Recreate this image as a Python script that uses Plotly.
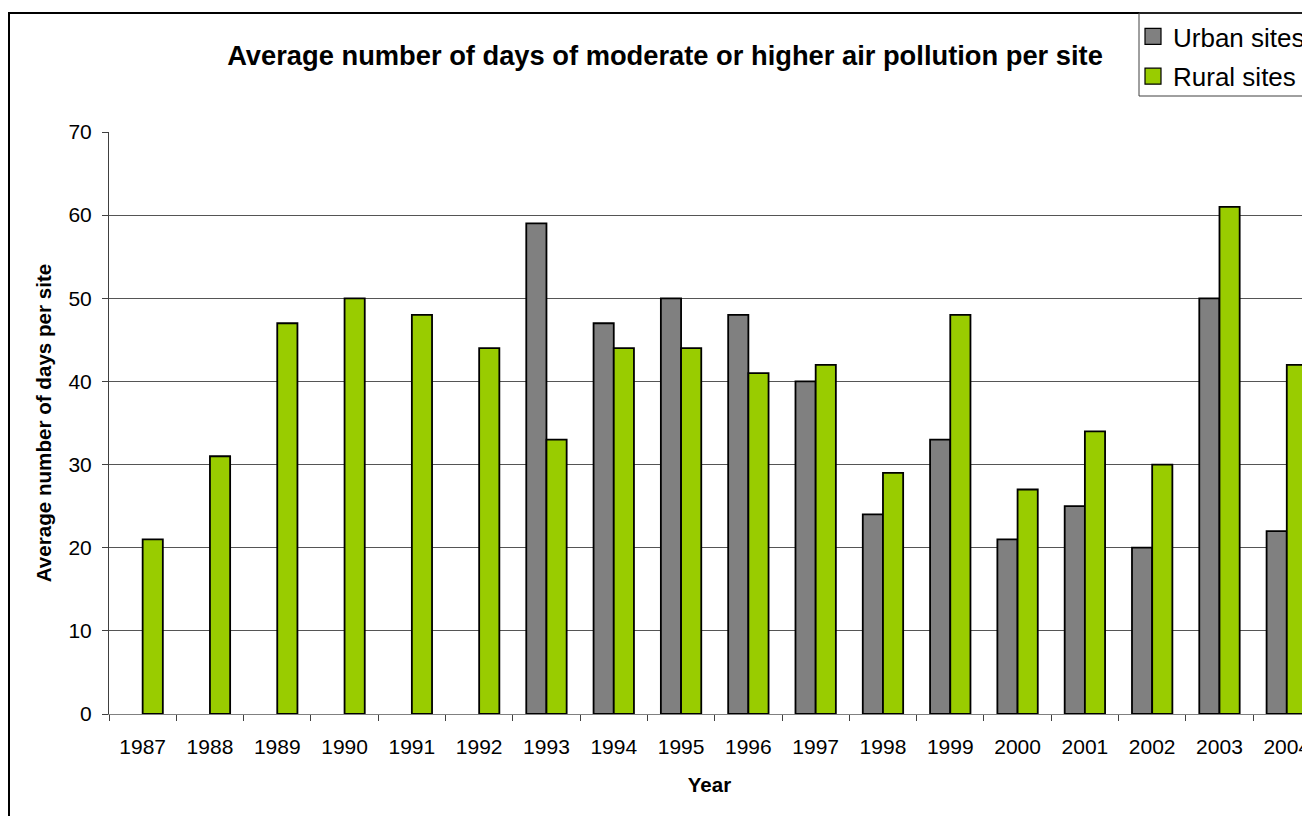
from plotly import graph_objects as go

years = ["1987", "1988", "1989", "1990", "1991", "1992", "1993", "1994", "1995",
         "1996", "1997", "1998", "1999", "2000", "2001", "2002", "2003", "2004"]
urban = [None, None, None, None, None, None, 59, 47, 50, 48, 40, 24, 33, 21, 25, 20, 50, 22]
rural = [21, 31, 47, 50, 48, 44, 33, 44, 44, 41, 42, 29, 48, 27, 34, 30, 61, 42]

font = "Liberation Sans, Arial, sans-serif"
grey = "#808080"
green = "#99CC00"

# page body has an 8px margin, so the figure is a bit smaller than the window
W, H = 1302, 808

fig = go.Figure()
fig.add_trace(go.Bar(name="Urban sites", x=years, y=urban, showlegend=False,
                     marker=dict(color=grey, line=dict(color="black", width=1.8))))
fig.add_trace(go.Bar(name="Rural sites", x=years, y=rural, showlegend=False,
                     marker=dict(color=green, line=dict(color="black", width=1.8))))

# legend entries with bigger square swatches
for name, col, grp in [("Urban sites", grey, "u"), ("Rural sites", green, "r")]:
    fig.add_trace(go.Scatter(name=name, x=[None], y=[None], mode="markers", legendgroup=grp,
                             marker=dict(symbol="square", size=16, color=col,
                                         line=dict(color="black", width=1.2))))

fig.update_layout(
    width=W, height=H,
    margin=dict(l=101, r=0, t=124, b=102),
    paper_bgcolor="white", plot_bgcolor="white",
    barmode="group", bargap=0.4, bargroupgap=0,
    font=dict(family=font, color="black"),
    title=dict(text="<b>Average number of days of moderate or higher air pollution per site</b>",
               x=657 / W, xanchor="center", y=1 - 47 / H, yanchor="middle",
               font=dict(size=27.3, family=font, color="black")),
    legend=dict(x=1.0, xanchor="right", y=(714 - 13) / 582, yanchor="top",
                traceorder="grouped", tracegroupgap=3, itemwidth=30,
                borderwidth=0, bgcolor="rgba(0,0,0,0)",
                font=dict(size=26, family=font, color="black")),
    showlegend=True,
)

fig.update_xaxes(
    type="category", range=[-0.5, 17.345],
    showline=True, linecolor="#808080", linewidth=1,
    ticks="outside", tickson="boundaries", ticklen=6, tickcolor="#404040",
    tickfont=dict(size=21, color="black"), ticklabelstandoff=14,
    title=dict(text="<b>Year</b>", font=dict(size=20.5, color="black"), standoff=20),
    showgrid=False, automargin=False,
)
fig.update_yaxes(
    range=[0, 70], dtick=10,
    showline=True, linecolor="#404040", linewidth=1,
    ticks="outside", ticklen=6, tickcolor="#404040",
    tickfont=dict(size=21, color="black"), ticklabelstandoff=6,
    showgrid=True, gridcolor="#555555", gridwidth=1, zeroline=False,
    title=dict(text="<b>Average number of days per site</b>", font=dict(size=20.6, color="black"), standoff=11),
    automargin=False,
)

# outer chart frame
fig.add_shape(type="rect", xref="paper", yref="paper",
              x0=(9 - 109) / 1201, x1=1.1, y0=-0.4, y1=(714 - 13) / 582,
              line=dict(color="black", width=2), layer="below")
# legend box, running off the right edge like the original
fig.add_shape(type="rect", xref="paper", yref="paper",
              x0=(1139 - 109) / 1201, x1=1.1, y0=(714 - 96) / 582, y1=(714 - 13) / 582,
              line=dict(color="#404040", width=1), fillcolor="rgba(0,0,0,0)", layer="below")

fig.write_html("out.html")
